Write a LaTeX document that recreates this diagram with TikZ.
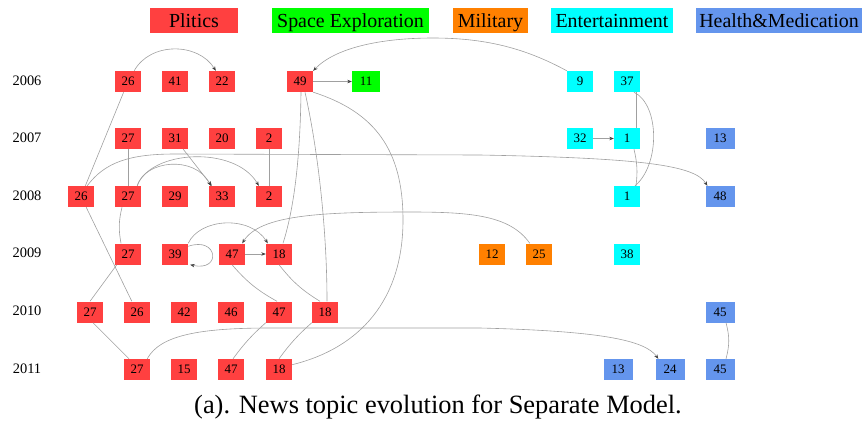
\documentclass[tikz,border=0pt]{standalone}
\usepackage{fontspec}
\setmainfont{Liberation Serif}
\usetikzlibrary{arrows.meta}

\definecolor{polc}{RGB}{255,64,64}
\definecolor{spcc}{RGB}{0,255,0}
\definecolor{milc}{RGB}{255,128,0}
\definecolor{entc}{RGB}{0,255,255}
\definecolor{hltc}{RGB}{100,149,237}
\definecolor{edgegray}{RGB}{160,160,160}

\tikzset{
  topic/.style={rectangle, inner sep=0pt, minimum width=26bp, minimum height=21bp,
                font=\fontsize{13}{13}\selectfont},
  polbox/.style={topic, fill=polc},
  spcbox/.style={topic, fill=spcc, minimum width=28bp},
  milbox/.style={topic, fill=milc},
  entbox/.style={topic, fill=entc},
  hltbox/.style={topic, fill=hltc, minimum width=29bp},
  legendbox/.style={rectangle, inner sep=0pt, minimum height=25bp,
                    font=\fontsize{20}{20}\selectfont, text height=17bp, text depth=4bp},
  yearlbl/.style={font=\fontsize{14.5}{14.5}\selectfont},
  edgeline/.style={draw=edgegray, line width=0.6bp},
  edgearrow/.style={edgeline, -{Stealth[length=4.5bp,width=3.5bp,color=black!75]}},
}

\begin{document}
\begin{tikzpicture}[x=1bp, y=-1bp]
\useasboundingbox (0,0) rectangle (866,423);

% ---- legend ----
\node[legendbox, fill=polc, minimum width=88bp]  (lgpol) at (194,20.5)   {Plitics};
\node[legendbox, fill=spcc, minimum width=157bp] (lgspc) at (350.5,20.5) {Space Exploration};
\node[legendbox, fill=milc, minimum width=75bp]  (lgmil) at (490.5,20.5) {Military};
\node[legendbox, fill=entc, minimum width=122bp] (lgent) at (612,20.5)   {Entertainment};
\node[legendbox, fill=hltc, minimum width=166bp] (lghlt) at (779,20.5)   {Health\&Medication};

% ---- year labels ----
\node[yearlbl] (yr6)  at (27,81)  {2006};
\node[yearlbl] (yr7)  at (27,138) {2007};
\node[yearlbl] (yr8)  at (27,196) {2008};
\node[yearlbl] (yr9)  at (27,253) {2009};
\node[yearlbl] (yr10) at (27,311) {2010};
\node[yearlbl] (yr11) at (27,369) {2011};

% ---- 2006 ----
\node[polbox] (y6n26) at (128,81.5) {26};
\node[polbox] (y6n41) at (175,81.5) {41};
\node[polbox] (y6n22) at (222,81.5) {22};
\node[polbox] (y6n49) at (300,81.5) {49};
\node[spcbox] (y6n11) at (366,81.5) {11};
\node[entbox] (y6n9)  at (580,81.5) {9};
\node[entbox] (y6n37) at (627,81.5) {37};

% ---- 2007 ----
\node[polbox] (y7n27) at (128,138.5) {27};
\node[polbox] (y7n31) at (175,138.5) {31};
\node[polbox] (y7n20) at (222,138.5) {20};
\node[polbox] (y7n2)  at (269,138.5) {2};
\node[entbox] (y7n32) at (580,138.5) {32};
\node[entbox] (y7n1)  at (627,138.5) {1};
\node[hltbox] (y7n13) at (720,138.5) {13};

% ---- 2008 ----
\node[polbox] (y8n26) at (81,196.5)  {26};
\node[polbox] (y8n27) at (128,196.5) {27};
\node[polbox] (y8n29) at (175,196.5) {29};
\node[polbox] (y8n33) at (222,196.5) {33};
\node[polbox] (y8n2)  at (269,196.5) {2};
\node[entbox] (y8n1)  at (627,196.5) {1};
\node[hltbox] (y8n48) at (720,196.5) {48};

% ---- 2009 ----
\node[polbox] (y9n27) at (128,254) {27};
\node[polbox] (y9n39) at (175,254) {39};
\node[polbox] (y9n47) at (232,254) {47};
\node[polbox] (y9n18) at (279,254) {18};
\node[milbox] (y9n12) at (492,254) {12};
\node[milbox] (y9n25) at (539,254) {25};
\node[entbox] (y9n38) at (627,254) {38};

% ---- 2010 ----
\node[polbox] (y10n27) at (90,312)  {27};
\node[polbox] (y10n26) at (137,312) {26};
\node[polbox] (y10n42) at (184,312) {42};
\node[polbox] (y10n46) at (231,312) {46};
\node[polbox] (y10n47) at (279,312) {47};
\node[polbox] (y10n18) at (325,312) {18};
\node[hltbox] (y10n45) at (720,312) {45};

% ---- 2011 ----
\node[polbox] (y11n27) at (137,369.5) {27};
\node[polbox] (y11n15) at (184,369.5) {15};
\node[polbox] (y11n47) at (231,369.5) {47};
\node[polbox] (y11n18) at (279,369.5) {18};
\node[hltbox] (y11n13) at (618,369.5) {13};
\node[hltbox] (y11n24) at (670,369.5) {24};
\node[hltbox] (y11n45) at (720,369.5) {45};

% ---- politics links ----
\draw[edgearrow] (y6n26.60) .. controls (150,42) and (198,42) .. (y6n22.120);
\draw[edgeline] (y6n26) -- (y8n26);
\draw[edgeline] (y8n26) -- (y10n26);
\draw[edgeline] (y7n27) -- (y8n27);
\draw[edgeline] ([xshift=-6bp]y8n27.south) to[bend right=12] ([xshift=-7bp]y9n27.north);
\draw[edgeline] ([xshift=2bp]y9n27.south west) -- (y10n27.north);
\draw[edgeline] ([xshift=3bp]y10n27.south) -- ([xshift=-8bp]y11n27.north);
\draw[edgearrow] ([xshift=-5bp]y7n31.south east) -- ([xshift=3bp]y8n33.north west);
\draw[edgearrow] ([xshift=-4bp]y8n27.north east) .. controls (145,160) and (195,155) .. ([xshift=2bp]y8n33.north west);
\draw[edgearrow] ([xshift=-4bp]y8n27.north east) .. controls (150,150) and (235,145) .. ([xshift=3bp]y8n2.north west);
\draw[edgeline] (y7n2) -- (y8n2);
\draw[edgearrow] ([xshift=-7bp]y8n26.north east) .. controls (105,162) and (130,154) .. (175,154)
      -- (480,155) .. controls (640,158) and (695,165) .. ([xshift=2bp]y8n48.north west);

\draw[edgearrow] (y6n49) -- (y6n11);
\draw[edgearrow] (y6n9.north west) .. controls (525,48) and (485,38) .. (433,38)
      .. controls (380,38) and (335,48) .. (y6n49.north east);
\draw[edgeline] ([xshift=1bp]y6n49.south) .. controls (300,170) and (292,215) .. ([xshift=4bp]y9n18.north);
\draw[edgeline] ([xshift=5bp]y6n49.south) .. controls (318,150) and (327,230) .. ([xshift=2bp]y10n18.north);
\draw[edgeline] (y6n49.south east) .. controls (375,112) and (403,150) .. (403,220)
      .. controls (403,300) and (360,348) .. (y11n18.20);

\draw[edgearrow] (y9n47) -- (y9n18);
\draw[edgearrow] ([yshift=-3bp]y9n39.north east) .. controls (218,236) and (222,272) .. ([xshift=2bp]y9n39.south east);
\draw[edgearrow] (y9n39.north east) .. controls (200,218) and (250,215) .. ([xshift=2bp]y9n18.north west);
\draw[edgearrow] ([xshift=4bp]y9n25.north west) .. controls (510,215) and (470,212) .. (410,212)
      .. controls (320,212) and (260,215) .. ([xshift=-3bp]y9n47.north east);
\draw[edgeline] (y9n47.south) to[bend right=10] ([xshift=-2bp]y10n47.north);
\draw[edgeline] (y9n18.south) to[bend right=10] ([xshift=-5bp]y10n18.north);
\draw[edgeline] (y10n47.south west) to[bend right=6] ([xshift=2bp]y11n47.north);
\draw[edgeline] (y10n18.south west) to[bend right=6] (y11n18.north);
\draw[edgearrow] ([xshift=-3bp]y11n27.north east) .. controls (160,335) and (200,328) .. (270,328)
      -- (480,328) .. controls (600,331) and (645,340) .. ([xshift=3bp]y11n24.north west);

% ---- health links ----
\draw[edgeline] ([xshift=6bp]y10n45.south) to[bend left=15] ([xshift=6bp]y11n45.north);

% ---- entertainment links ----
\draw[edgearrow] (y7n32) -- (y7n1);
\draw[edgeline] ([xshift=9bp]y6n37.south) -- ([xshift=9bp]y7n1.north);
\draw[edgeline] ([xshift=7bp]y6n37.south) .. controls (660,105) and (660,165) .. ([xshift=8bp]y8n1.north);
\draw[edgeline] ([xshift=7bp]y7n1.south) to[bend left=10] ([xshift=9bp]y8n1.north);

% ---- caption ----
\node[font=\fontsize{26.5}{26.5}\selectfont, anchor=base] (caption) at (438,413)
  {(a). News topic evolution for Separate Model.};
\end{tikzpicture}
\end{document}
